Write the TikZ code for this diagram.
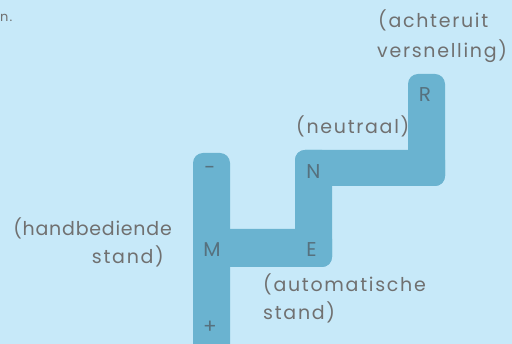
\documentclass[tikz,border=0pt]{standalone}
\usepackage{fontspec}
\setmainfont{Poppins}[LetterSpace=9]
\definecolor{bg}{HTML}{C7E9F9}
\definecolor{bar}{HTML}{6AB3D0}
\definecolor{txt}{HTML}{707070}
\definecolor{ltr}{HTML}{56717E}
\begin{document}
\begin{tikzpicture}[x=1pt,y=-1pt,
  barpart/.style={fill=bar,rounded corners=10pt},
  lbl/.style={text=txt,font=\fontsize{19}{28}\selectfont,inner sep=0pt},
  gear/.style={text=ltr,font=\fontsize{20}{24}\selectfont,inner sep=0pt}]
\fill[bg] (0,0) rectangle (512,344);
\useasboundingbox (0,0) rectangle (512,344);
\begin{scope}
\clip (0,0) rectangle (512,344);
\fill[barpart] (193,153) rectangle (230,360);
\fill[barpart] (220,229) rectangle (332,267);
\fill[barpart] (295,150) rectangle (332,267);
\fill[barpart] (295,150) rectangle (445,186);
\fill[barpart] (408,74) rectangle (445,186);
\end{scope}
\node[lbl,anchor=base west,font=\fontsize{13}{16}\selectfont] (frag) at (0,22) {n.};
\node[gear] (minus) at (210,170) {-};
\node[gear] (m) at (212,250) {M};
\node[gear] (plus) at (210,327.5) {+};
\node[gear] (n) at (313.5,171.5) {N};
\node[gear] (e) at (311.5,249.5) {E};
\node[gear] (r) at (425,94.5) {R};
\node[lbl,anchor=base west] (neu) at (296,134) {(neutraal)};
\node[lbl,anchor=base west] (ach1) at (378,28) {(achteruit};
\node[lbl,anchor=base west] (ach2) at (377,58) {versnelling)};
\node[lbl,anchor=base east] (hand1) at (172,236) {\addfontfeatures{LetterSpace=4}(handbediende};
\node[lbl,anchor=base east] (hand2) at (164,264) {stand)};
\node[lbl,anchor=base west] (auto1) at (263,292) {(automatische};
\node[lbl,anchor=base west] (auto2) at (263,320) {stand)};
\end{tikzpicture}
\end{document}
